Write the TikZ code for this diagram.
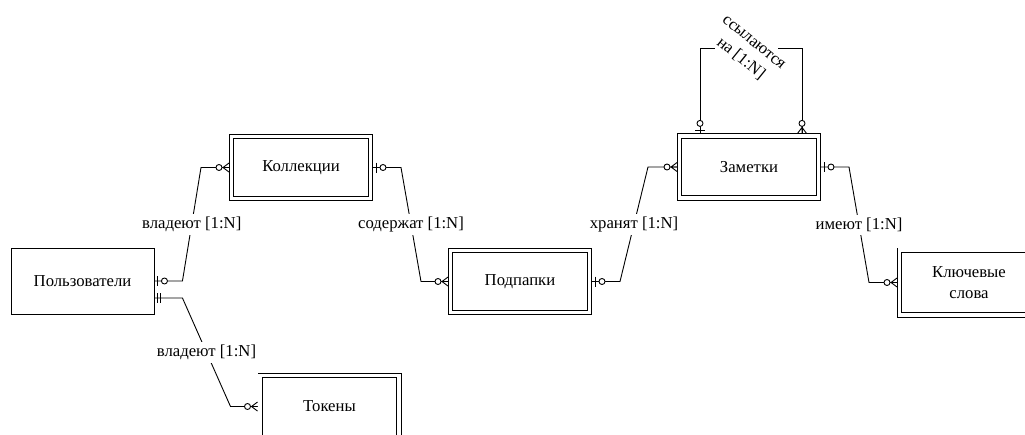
\documentclass[tikz,border=0pt]{standalone}
\usepackage{fontspec}
\setmainfont{Liberation Serif}
\begin{document}
\begin{tikzpicture}[x=1pt,y=-1pt,line width=0.9pt,
	every node/.style={font=\fontsize{16.7}{21}\selectfont},
	entity/.style={draw,minimum width=143pt,minimum height=66pt,inner sep=0pt},
	weak/.style={draw,double,double distance=3.6pt,line width=0.8pt,outer sep=2.6pt,minimum width=138.8pt,minimum height=62pt,inner sep=0pt,align=center},
	rel/.style={fill=white,inner sep=3pt},
	zeroone/.pic={\draw (3,-5) -- (3,5); \draw[fill=white] (10,0) circle (3);},
	zeromany/.pic={\draw (0,-4.5) -- (6,0) -- (0,4.5) (0,0) -- (6,0); \draw[fill=white] (10,0) circle (3);},
	onlyone/.pic={\draw (3,-5) -- (3,5) (6,-5) -- (6,5);}]

		\useasboundingbox (0,0) rectangle (1025,434);
		\clip (0,0) rectangle (1025,434);

		\node[entity] (users) at (82.5,281) {Пользователи};
		\node[weak] (coll) at (301,167.5) {Коллекции};
		\node[weak] (tokens) at (329.5,406.5) {Токены};
		\node[weak] (sub) at (520,281.5) {Подпапки};
		\node[weak] (notes) at (749,167) {Заметки};
		\node[weak,minimum height=64.8pt] (kw) at (969,282.5) {Ключевые\\слова};

		\draw (users.east) -- ++(28,0) -- node[rel] (own1) {владеют [1:N]} ([xshift=-28pt]coll.west) -- (coll.west);
		\draw ([yshift=-17pt]users.east) -- ++(28,0) -- node[rel] (own2) {владеют [1:N]} ([xshift=-27pt]tokens.west) -- (tokens.west);
		\draw (coll.east) -- ++(28,0) -- node[rel] (cont) {содержат [1:N]} ([xshift=-27pt]sub.west) -- (sub.west);
		\draw (sub.east) -- ++(28,0) -- node[rel] (keep) {хранят [1:N]} ([xshift=-29pt]notes.west) -- (notes.west);
		\draw (notes.east) -- ++(28,0) -- node[rel] (have) {имеют [1:N]} ([xshift=-28pt]kw.west) -- (kw.west);

		% self link
		\coordinate (loopL) at (700,48);
		\coordinate (loopR) at (802,48);
		\draw (notes.north -| loopL) -- (loopL) -- ++(15,0);
		\draw (notes.north -| loopR) -- (loopR) -- ++(-24,0);
		\node[rotate=-39,align=center] (refs) at (746.5,51.5) {ссылаются\\на [1:N]};

		\pic at (users.east) {zeroone};
		\pic at ([yshift=-17pt]users.east) {onlyone};
		\pic[rotate=180] at (coll.west) {zeromany};
		\pic at (coll.east) {zeroone};
		\pic[rotate=180] at (tokens.west) {zeromany};
		\pic[rotate=180] at (sub.west) {zeromany};
		\pic at (sub.east) {zeroone};
		\pic[rotate=180] at (notes.west) {zeromany};
		\pic at (notes.east) {zeroone};
		\pic[rotate=180] at (kw.west) {zeromany};
		\pic[rotate=90] at (notes.north -| loopL) {zeroone};
		\pic[rotate=90] at (notes.north -| loopR) {zeromany};

	\end{tikzpicture}
\end{document}
